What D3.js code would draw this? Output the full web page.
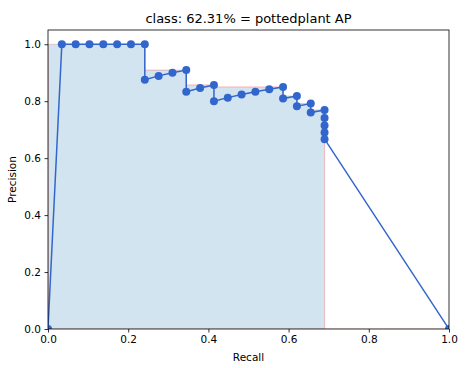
<!DOCTYPE html>
<html>
<head>
<meta charset="utf-8">
<script src="https://cdn.jsdelivr.net/npm/d3@7"></script>
<style>
  body { margin: 0; background: #fff; }
  text { font-family: "DejaVu Sans", sans-serif; fill: #000; }
</style>
</head>
<body>
<div id="chart"></div>
<script>
// recall / precision (29 ground truths, rec = k/29)
const recall = [0.0, 0.0345, 0.069, 0.1034, 0.1379, 0.1724, 0.2069, 0.2414, 0.2414, 0.2759, 0.3103,
  0.3448, 0.3448, 0.3793, 0.4138, 0.4138, 0.4483, 0.4828, 0.5172, 0.5517, 0.5862, 0.5862,
  0.6207, 0.6207, 0.6552, 0.6552, 0.6897, 0.6897, 0.6897, 0.6897, 0.6897, 1.0];
const precision = [0.0, 1.0, 1.0, 1.0, 1.0, 1.0, 1.0, 1.0, 0.875, 0.8889, 0.9,
  0.9091, 0.8333, 0.8462, 0.8571, 0.8, 0.8125, 0.8235, 0.8333, 0.8421, 0.85, 0.8095,
  0.8182, 0.7826, 0.7917, 0.76, 0.7692, 0.7407, 0.7143, 0.6897, 0.6667, 0.0];
const xTicks = [0.0, 0.2, 0.4, 0.6, 0.8, 1.0];
const yTicks = [0.0, 0.2, 0.4, 0.6, 0.8, 1.0];
const title = "class: 62.31% = pottedplant AP";

const width = 467, height = 368;
const margin = { top: 30, right: 18, bottom: 39, left: 48 };

const svg = d3.select("#chart").append("svg")
  .attr("width", width)
  .attr("height", height);

const x = d3.scaleLinear().domain([0, 1]).range([margin.left, width - margin.right]);
const y = d3.scaleLinear().domain([0, 1.05]).range([height - margin.bottom, margin.top]);

// interpolated precision envelope (max to the right), as the AP code does
const pts = recall.map((r, i) => ({ r: r, p: precision[i] }));
const mpre = precision.slice();
mpre[0] = 0;
for (let i = mpre.length - 2; i >= 0; i--) mpre[i] = Math.max(mpre[i], mpre[i + 1]);
const area = [];
for (let i = 0; i < recall.length - 1; i++) area.push({ r: recall[i], p: mpre[i] });
area.push({ r: recall[recall.length - 2], p: 0 });
area.push({ r: recall[recall.length - 1], p: 0 });

svg.append("clipPath").attr("id", "clip")
  .append("rect")
  .attr("x", x(0)).attr("y", y(1.05))
  .attr("width", x(1) - x(0)).attr("height", y(0) - y(1.05));

const plot = svg.append("g").attr("clip-path", "url(#clip)");

plot.append("path")
  .datum(area)
  .attr("d", d3.area().x(d => x(d.r)).y0(y(0)).y1(d => y(d.p)))
  .attr("fill", "#1f77b4")
  .attr("fill-opacity", 0.2)
  .attr("stroke", "red")
  .attr("stroke-opacity", 0.2)
  .attr("stroke-width", 1.2);

plot.append("path")
  .datum(pts)
  .attr("d", d3.line().x(d => x(d.r)).y(d => y(d.p)))
  .attr("fill", "none")
  .attr("stroke", "#3366cc")
  .attr("stroke-width", 1.5);

plot.append("g")
  .selectAll("circle")
  .data(pts)
  .join("circle")
  .attr("cx", d => x(d.r))
  .attr("cy", d => y(d.p))
  .attr("r", 4)
  .attr("fill", "#3366cc");

// axes
const xAxis = svg.append("g")
  .attr("transform", `translate(0,${y(0)})`)
  .call(d3.axisBottom(x).tickValues(xTicks).tickFormat(d3.format(".1f")).tickSize(3.5).tickPadding(3.5));
const yAxis = svg.append("g")
  .attr("transform", `translate(${x(0)},0)`)
  .call(d3.axisLeft(y).tickValues(yTicks).tickFormat(d3.format(".1f")).tickSize(3.5).tickPadding(3.5));
[xAxis, yAxis].forEach(g => {
  g.select(".domain").remove();
  g.selectAll("line").attr("stroke", "#000").attr("stroke-width", 0.8);
  g.selectAll("text").style("font-size", "10.5px").attr("fill", "#000");
});

svg.append("rect")
  .attr("x", x(0)).attr("y", y(1.05))
  .attr("width", x(1) - x(0)).attr("height", y(0) - y(1.05))
  .attr("fill", "none")
  .attr("stroke", "#000")
  .attr("stroke-width", 0.8);

svg.append("text")
  .attr("x", (x(0) + x(1)) / 2)
  .attr("y", y(1.05) - 7)
  .attr("text-anchor", "middle")
  .style("font-size", "13px")
  .text(title);

svg.append("text")
  .attr("x", (x(0) + x(1)) / 2)
  .attr("y", 361)
  .attr("text-anchor", "middle")
  .style("font-size", "10.5px")
  .text("Recall");

svg.append("text")
  .attr("transform", `translate(16,${(y(0) + y(1.05)) / 2}) rotate(-90)`)
  .attr("text-anchor", "middle")
  .style("font-size", "10.5px")
  .text("Precision");
</script>
</body>
</html>
